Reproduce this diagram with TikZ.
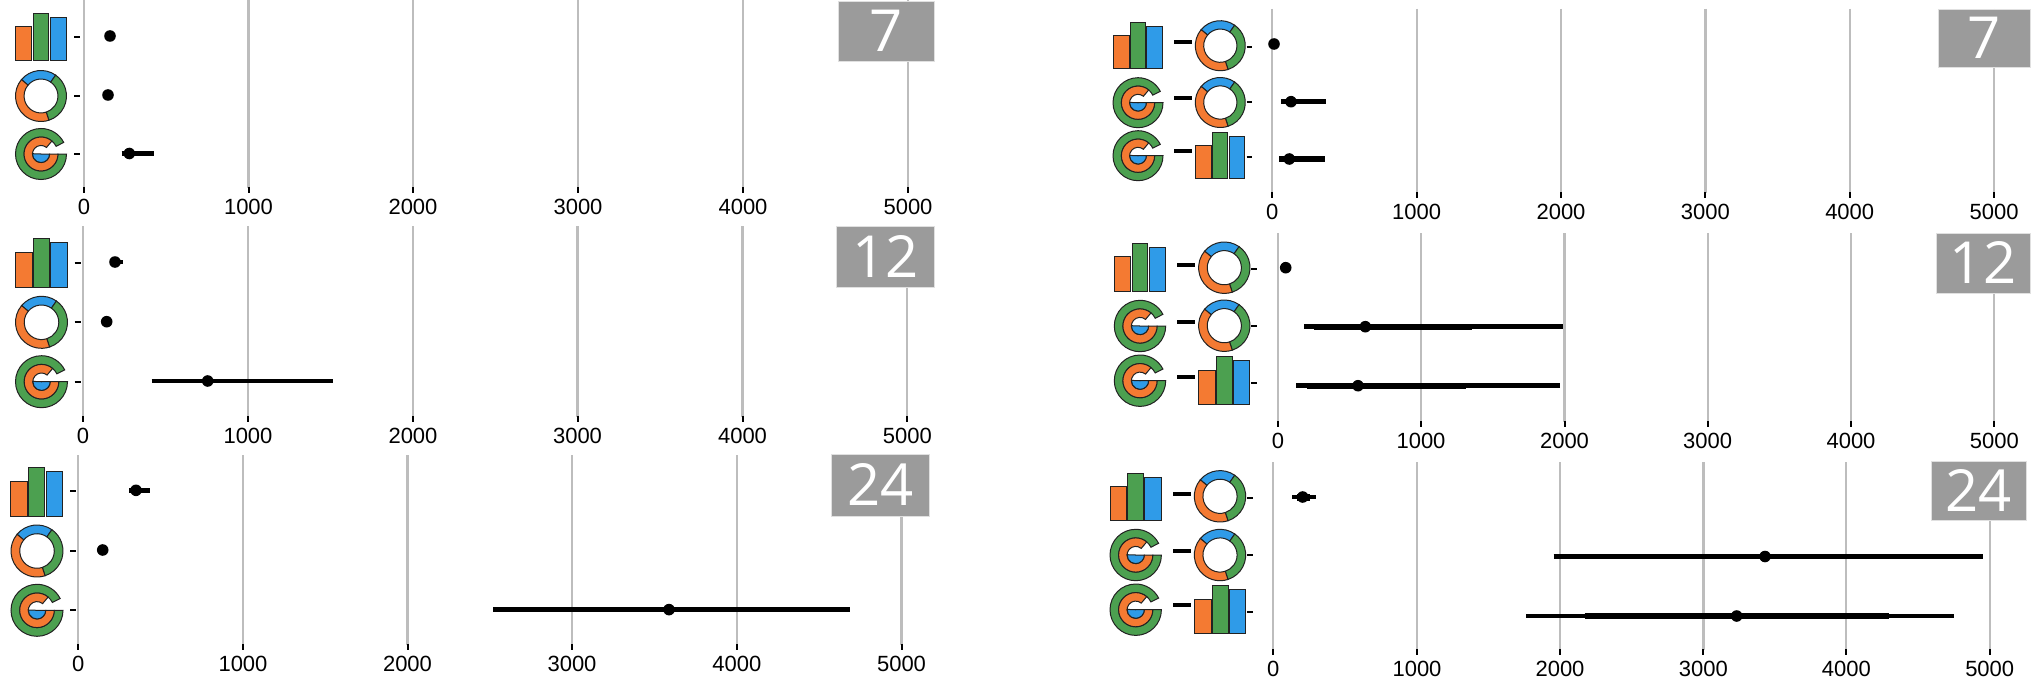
\documentclass[tikz,border=0pt]{standalone}
\usepackage{fontspec}
\setmainfont{Liberation Sans}
\newfontfamily\badgefont{Open Sans}
\definecolor{cO}{HTML}{F47A32}
\definecolor{cG}{HTML}{4CA050}
\definecolor{cB}{HTML}{2F9BE8}
\definecolor{cGrid}{HTML}{BDBDBD}
\definecolor{cBadge}{HTML}{9B9B9B}
\definecolor{cEdge}{HTML}{222222}
\tikzset{
  gridln/.style={draw=cGrid,line width=2.2pt},
  tickln/.style={draw=black,line width=2pt},
  shape edge/.style={draw=cEdge,line width=1pt,line join=miter},
  axlabel/.style={font=\fontsize{22}{22}\selectfont,anchor=center,inner sep=0pt,text height=15.5pt,text depth=0pt},
  badgebox/.style={fill=cBadge,draw=white!88!black,line width=.8pt,text=white,inner sep=0pt,font=\fontsize{58}{58}\selectfont\badgefont,text height=41pt,text depth=0pt},
  cithin/.style={draw=black,line width=4.8pt},
  cithick/.style={draw=black,line width=5.6pt},
  dashln/.style={draw=black,line width=4pt},
  dotmark/.style={fill=black,draw=none}
}
% sector: start, end, inner r, outer r, colour
\newcommand{\sectorfig}[5]{%
  \filldraw[shape edge,fill=#5] (#1:#4) arc[start angle=#1,end angle=#2,radius=#4] -- (#2:#3) arc[start angle=#2,end angle=#1,radius=#3] -- cycle;}
% icons: centre x, centre y, half width
\newcommand{\iconDonut}[3]{%
  \begin{scope}[shift={(#1,#2)},x=1pt,y=1pt,scale=#3]
    \sectorfig{55}{140}{0.665}{1}{cB}
    \sectorfig{-72}{55}{0.665}{1}{cG}
    \sectorfig{140}{288}{0.665}{1}{cO}
  \end{scope}}
\newcommand{\iconRadial}[3]{%
  \begin{scope}[shift={(#1,#2)},x=1pt,y=1pt,scale=#3]
    \sectorfig{0}{-333}{0.665}{1}{cG}
    \sectorfig{0}{-310}{0.335}{0.665}{cO}
    \sectorfig{0}{-182}{0.005}{0.335}{cB}
  \end{scope}}
% bars: centre x, bottom y, half width
\newcommand{\iconBars}[3]{%
  \begin{scope}[shift={(#1,#2)},x=1pt,y=1pt,scale=#3]
    \filldraw[shape edge,fill=cO] (-1,0) rectangle (-0.36,1.34);
    \filldraw[shape edge,fill=cG] (-0.31,0) rectangle (0.31,1.87);
    \filldraw[shape edge,fill=cB] (0.36,0) rectangle (1,1.70);
  \end{scope}}
% panel: name, x positions for 0..5000, top, bottom
\newcommand{\panelaxes}[9]{%
  \foreach \xx/\lab in {#2/0,#3/1000,#4/2000,#5/3000,#6/4000,#7/5000}{%
    \draw[gridln] (\xx,#8) -- (\xx,#9);
    \draw[tickln] (\xx,#9-1) -- (\xx,#9+5);
    \node[axlabel] (#1-\lab) at (\xx,#9+18.5) {\lab};
  }}
\newcommand{\rowtick}[3]{\draw[tickln] (#1,#3) -- (#2,#3);}
\newcommand{\dotat}[2]{\fill[dotmark] (#1,#2) circle[radius=5.8];}
\begin{document}
\begin{tikzpicture}[x=1pt,y=-1pt]
\useasboundingbox (0,0) rectangle (2034,682);
\fill[white] (0,0) rectangle (2034,682);

% axes
\panelaxes{pa}{84}{248.5}{413}{578}{743}{908}{0}{188}
\panelaxes{pb}{83}{248}{413}{577.5}{742.5}{907.3}{226}{417}
\panelaxes{pc}{78.3}{243}{407.5}{572}{736.8}{901.5}{455}{645}
\panelaxes{pd}{1272.3}{1416.7}{1561}{1705.4}{1849.7}{1994}{9}{193}
\panelaxes{pe}{1278}{1421}{1564.5}{1707.6}{1851}{1994.3}{233}{422}
\panelaxes{pf}{1273.3}{1417}{1560}{1703.4}{1846.3}{1989.7}{462}{650}

% badges
\node[badgebox,minimum width=96pt,minimum height=60pt] (ba) at (886,31) {7};
\node[badgebox,minimum width=98pt,minimum height=61pt] (bb) at (885.6,256.5) {12};
\node[badgebox,minimum width=98pt,minimum height=62pt] (bc) at (880.8,485) {24};
\node[badgebox,minimum width=92pt,minimum height=58pt] (bd) at (1984,38) {7};
\node[badgebox,minimum width=94pt,minimum height=60pt] (be) at (1983,263) {12};
\node[badgebox,minimum width=95pt,minimum height=59pt] (bf) at (1978.5,490.5) {24};

% panel a (top left)
\iconBars{41}{61}{25.6}
\iconDonut{41}{96}{25.5}
\iconRadial{41}{154}{25.5}
\rowtick{74}{79.7}{37}\rowtick{74}{79.7}{96}\rowtick{74}{79.7}{154}
\dotat{110}{36}
\dotat{108}{95}
\draw[cithin] (121.7,153.5) -- (153.7,153.5);\dotat{129.3}{153.5}

% panel b (middle left)
\iconBars{41.5}{287.3}{26.1}
\iconDonut{41.5}{322.3}{26}
\iconRadial{41.5}{381.7}{26}
\rowtick{74.5}{80.5}{262.5}\rowtick{74.5}{80.5}{322}\rowtick{74.5}{80.5}{381.5}
\draw[cithin] (112,262) -- (122.7,262);\dotat{115}{262}
\dotat{106.7}{321.7}
\draw[cithin] (151.7,381) -- (333.3,381);\dotat{207.7}{381}

% panel c (bottom left)
\iconBars{36.8}{516}{26.1}
\iconDonut{37}{551}{26}
\iconRadial{37}{610.3}{26}
\rowtick{70}{76}{491}\rowtick{70}{76}{550.5}\rowtick{70}{76}{610.3}
\draw[cithin] (129.3,490.3) -- (149.7,490.3);\dotat{136}{490.3}
\dotat{102.7}{550}
\draw[cithin] (493,609.6) -- (849.6,609.6);\dotat{669}{609.6}

% panel d (top right)
\iconBars{1138}{68.3}{24.7}
\iconRadial{1138}{102.7}{25}
\iconRadial{1138}{155.7}{25}
\draw[dashln] (1174.3,42) -- (1192.3,42);
\draw[dashln] (1174.3,97.7) -- (1192.3,97.7);
\draw[dashln] (1174.3,151) -- (1192.3,151);
\iconDonut{1220.3}{45.7}{25}
\iconDonut{1220.3}{102.5}{25}
\iconBars{1220.2}{178.3}{24.7}
\rowtick{1246.7}{1252}{47.3}\rowtick{1246.7}{1252}{102.3}\rowtick{1246.7}{1252}{157.3}
\dotat{1274}{44}
\draw[cithick] (1281,101.7) -- (1326,101.7);\dotat{1291}{101.7}
\draw[cithick] (1279,159) -- (1325,159);\dotat{1289.3}{159}

% panel e (middle right)
\iconBars{1140}{291.3}{25.7}
\iconRadial{1140}{326}{25.7}
\iconRadial{1140}{380.7}{25.7}
\draw[dashln] (1177,264.7) -- (1195,264.7);
\draw[dashln] (1177,321.7) -- (1195,321.7);
\draw[dashln] (1177,376.7) -- (1195,376.7);
\iconDonut{1224.3}{267.7}{25.7}
\iconDonut{1224.3}{325.7}{25.7}
\iconBars{1224.2}{404.3}{25.5}
\rowtick{1251.3}{1257}{269}\rowtick{1251.3}{1257}{326}\rowtick{1251.3}{1257}{382.7}
\draw[cithin] (1282,267.7) -- (1291,267.7);\dotat{1285.7}{267.7}
\draw[cithin] (1304,326.7) -- (1563,326.7);\draw[cithick] (1314,326.7) -- (1472,326.7);\dotat{1365.3}{326.7}
\draw[cithin] (1296,385.7) -- (1560,385.7);\draw[cithick] (1307,385.7) -- (1466,385.7);\dotat{1358}{385.7}

% panel f (bottom right)
\iconBars{1135.8}{520.7}{25.5}
\iconRadial{1135.7}{555}{25.7}
\iconRadial{1135.7}{609.7}{25.7}
\draw[dashln] (1173,493.7) -- (1191,493.7);
\draw[dashln] (1173,550.7) -- (1191,550.7);
\draw[dashln] (1173,605.3) -- (1191,605.3);
\iconDonut{1220}{496.3}{25.7}
\iconDonut{1220}{555}{25.7}
\iconBars{1220.2}{633.3}{25.5}
\rowtick{1247}{1252.7}{498.3}\rowtick{1247}{1252.7}{555}\rowtick{1247}{1252.7}{611.7}
\draw[cithin] (1292,497) -- (1316,497);\draw[line width=7pt] (1297,497) -- (1310,497);\dotat{1302.7}{497}
\draw[cithin] (1553.5,556.5) -- (1982.9,556.5);\draw[cithick] (1610.7,556.5) -- (1919.6,556.5);\dotat{1765}{556.5}
\draw[cithin] (1526.2,616) -- (1953.6,616);\draw[cithick] (1584.5,616) -- (1888.9,616);\dotat{1736.7}{616}
\end{tikzpicture}
\end{document}
